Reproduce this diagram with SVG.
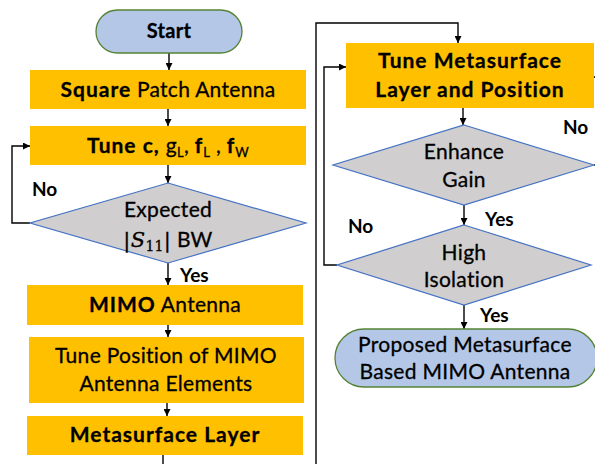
<svg xmlns="http://www.w3.org/2000/svg" width="595" height="464" viewBox="0 0 595 464">
<defs>
<marker id="ah" viewBox="0 0 10 10" refX="10" refY="5" markerWidth="7" markerHeight="7" markerUnits="userSpaceOnUse" orient="auto">
<path d="M0,0 L10,5 L0,10 z" fill="#000"/>
</marker>
<style>
.box{fill:#FFC000;}
.pill{fill:#B4C7E7;stroke:#548235;stroke-width:1.3;}
.dia{fill:#D0CECE;stroke:#4472C4;stroke-width:1.2;}
.t{font-family:Lato,"Liberation Sans",sans-serif;font-size:21px;letter-spacing:0.3px;fill:#000;stroke:#000;stroke-width:0.3;text-anchor:middle;}
.b{font-weight:bold;letter-spacing:1px;}
.lbl{font-family:Lato,"Liberation Sans",sans-serif;font-size:19px;font-weight:bold;fill:#000;}
.c{fill:none;stroke:#000;stroke-width:1.4;}
</style>
</defs>
<rect width="595" height="464" fill="#fff"/>

<g id="connectors">
<path class="c" d="M169,53 V70" marker-end="url(#ah)"/>
<path class="c" d="M168,109 V126" marker-end="url(#ah)"/>
<path class="c" d="M168,165 V183" marker-end="url(#ah)"/>
<path class="c" d="M168,263 V285" marker-end="url(#ah)"/>
<path class="c" d="M30,223 H12 V146 H30" marker-end="url(#ah)"/>
<path class="c" d="M168,325 V337" marker-end="url(#ah)"/>
<path class="c" d="M167,403 V416" marker-end="url(#ah)"/>
<path class="c" d="M163,455 V475 H316 V23 H458 V43" marker-end="url(#ah)"/>
<path class="c" d="M463,108 V125" marker-end="url(#ah)"/>
<path class="c" d="M464,205 V225" marker-end="url(#ah)"/>
<path class="c" d="M464,305 V329" marker-end="url(#ah)"/>
<path class="c" d="M337,265 H324 V67 H346" marker-end="url(#ah)"/>
<path class="c" d="M594,165 H610 V77 H594" marker-end="url(#ah)"/>
<text class="lbl" x="32" y="196">No</text>
<text class="lbl" x="180" y="282">Yes</text>
<text class="lbl" x="563" y="134">No</text>
<text class="lbl" x="485" y="226">Yes</text>
<text class="lbl" x="348" y="233">No</text>
<text class="lbl" x="480" y="322">Yes</text>
</g>

<g id="start">
<rect class="pill" x="96" y="10" width="146" height="43" rx="21.5"/>
<text class="t b" x="169" y="38" style="font-size:20px;letter-spacing:0.3px">Start</text>
</g>

<g id="square-patch">
<rect class="box" x="30" y="70" width="276" height="39"/>
<text class="t" x="168" y="97"><tspan class="b">Square</tspan> Patch Antenna</text>
</g>

<g id="tune-params">
<rect class="box" x="30" y="126" width="276" height="39"/>
<text class="t" x="168" y="153"><tspan class="b">Tune c, </tspan><tspan>g</tspan><tspan font-size="13" dy="4">L</tspan><tspan dy="-4">, </tspan><tspan class="b">f</tspan><tspan font-size="13" dy="4">L</tspan><tspan dy="-4"> , </tspan><tspan class="b">f</tspan><tspan font-size="13" dy="4">W</tspan></text>
</g>

<g id="expected-s11">
<polygon class="dia" points="168,183 306,223 168,263 30,223"/>
<text class="t" x="168" y="217">Expected</text>
<text class="t" x="168" y="247"><tspan font-family="'DejaVu Serif','Liberation Serif',serif">|</tspan><tspan font-family="'DejaVu Serif','Liberation Serif',serif" font-style="italic">S</tspan><tspan font-family="'DejaVu Serif','Liberation Serif',serif" font-size="14" dy="4">11</tspan><tspan font-family="'DejaVu Serif','Liberation Serif',serif" dy="-4">|</tspan> BW</text>
</g>

<g id="mimo-antenna">
<rect class="box" x="27" y="285" width="276" height="40"/>
<text class="t" x="165" y="312"><tspan class="b">MIMO</tspan> Antenna</text>
</g>

<g id="tune-position">
<rect class="box" x="29" y="337" width="275" height="66"/>
<text class="t" x="166" y="363">Tune Position of MIMO</text>
<text class="t" x="166" y="391">Antenna Elements</text>
</g>

<g id="metasurface-layer">
<rect class="box" x="27" y="416" width="276" height="39"/>
<text class="t b" x="165" y="442">Metasurface Layer</text>
</g>

<g id="tune-metasurface">
<rect class="box" x="346" y="43" width="248" height="65"/>
<text class="t b" x="470" y="68">Tune Metasurface</text>
<text class="t b" x="470" y="97">Layer and Position</text>
</g>

<g id="enhance-gain">
<polygon class="dia" points="464,125 594,165 464,205 333,165"/>
<text class="t" x="464" y="159">Enhance</text>
<text class="t" x="464" y="187">Gain</text>
</g>

<g id="high-isolation">
<polygon class="dia" points="464,225 591,265 464,305 337,265"/>
<text class="t" x="464" y="260">High</text>
<text class="t" x="464" y="287">Isolation</text>
</g>

<g id="proposed">
<rect class="pill" x="335" y="329" width="262" height="58" rx="29"/>
<text class="t" x="465" y="352">Proposed Metasurface</text>
<text class="t" x="465" y="379">Based MIMO Antenna</text>
</g>
</svg>
